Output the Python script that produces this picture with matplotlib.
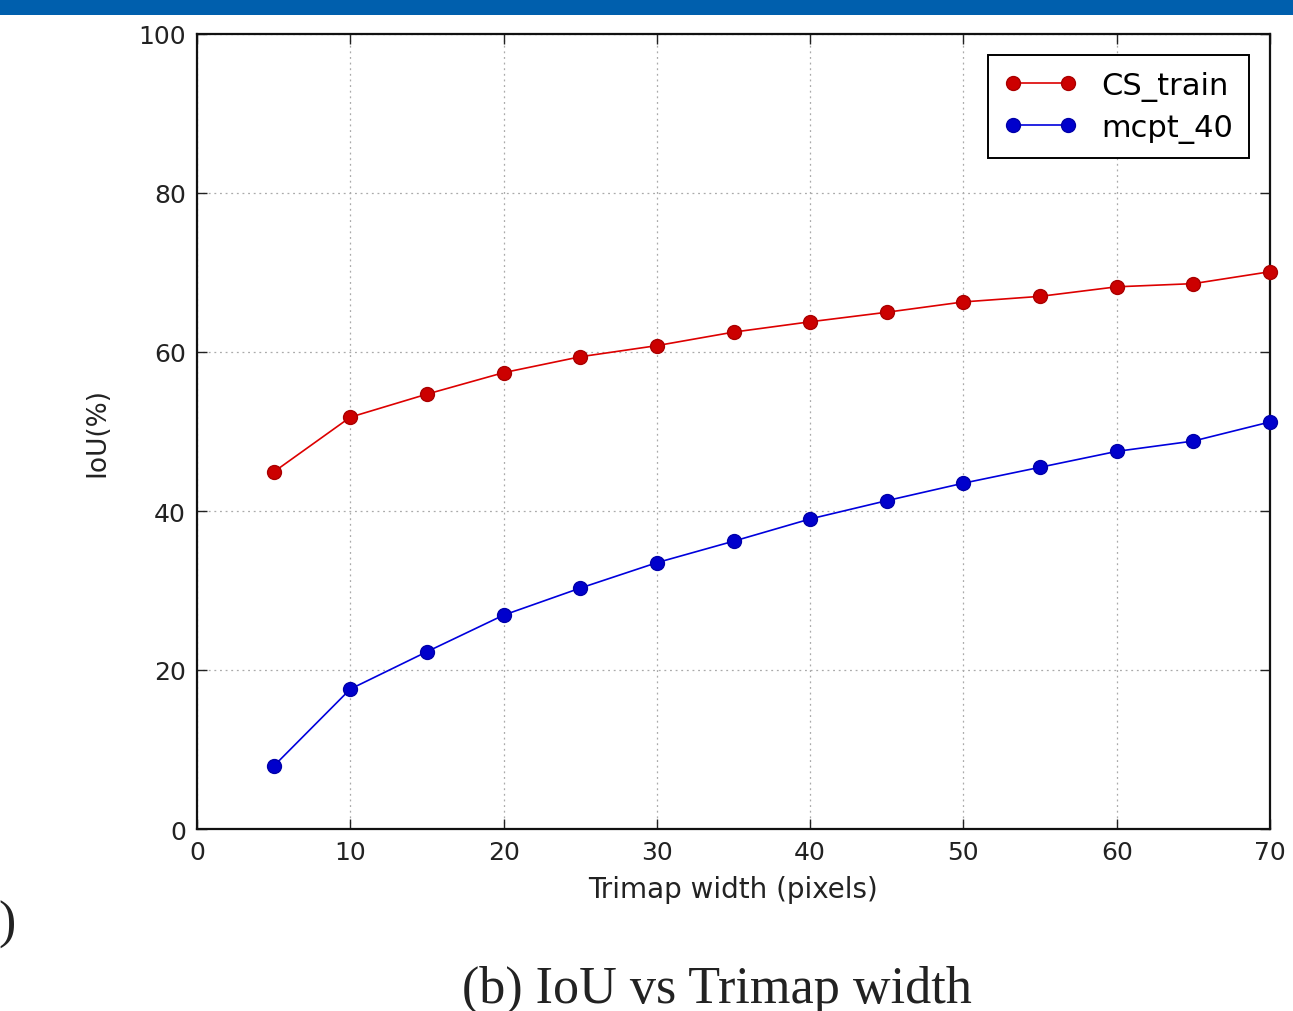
import matplotlib
matplotlib.use("Agg")
import matplotlib.pyplot as plt
from matplotlib.patches import Rectangle

# data
widths = [5, 10, 15, 20, 25, 30, 35, 40, 45, 50, 55, 60, 65, 70]
cs_train = [44.9, 51.8, 54.7, 57.4, 59.4, 60.8, 62.5, 63.8, 65.0, 66.3, 67.0, 68.2, 68.6, 70.1]
mcpt_40 = [7.9, 17.6, 22.3, 26.9, 30.3, 33.5, 36.2, 39.0, 41.3, 43.5, 45.5, 47.5, 48.8, 51.2]
xticks = [0, 10, 20, 30, 40, 50, 60, 70]
yticks = [0, 20, 40, 60, 80, 100]

plt.rcParams["font.family"] = ["DejaVu Sans"]

fig = plt.figure(figsize=(12.93, 10.12), dpi=100)
fig.patch.set_facecolor("white")

# blue banner across the top
fig.add_artist(Rectangle((0, 1 - 16 / 1012), 1, 16 / 1012, transform=fig.transFigure,
                         facecolor="#005fad", edgecolor="none"))

ax = fig.add_axes([197 / 1293, 1 - 830 / 1012, (1270 - 197) / 1293, (830 - 35) / 1012])

ax.plot(widths, cs_train, "-o", color="#dd0000", mfc="#cc0000", mec="#aa0000",
        lw=1.2, ms=10, label="CS_train", clip_on=False, zorder=3)
ax.plot(widths, mcpt_40, "-o", color="#0000dd", mfc="#0000cc", mec="#0000aa",
        lw=1.2, ms=10, label="mcpt_40", clip_on=False, zorder=3)

ax.set_xlim(0, 70)
ax.set_ylim(0, 100)
ax.set_xticks(xticks)
ax.set_yticks(yticks)
ax.tick_params(direction="in", top=True, right=True, length=7, width=1,
               labelsize=18, pad=8, colors="#222222")
ax.grid(True, linestyle=(0, (1.5, 3)), color="#aaaaaa", lw=0.9)
for s in ax.spines.values():
    s.set_linewidth(1.6)
    s.set_color("#111111")

ax.set_xlabel("Trimap width (pixels)", fontsize=20, color="#222222", labelpad=8)
ax.set_ylabel("IoU(%)", fontsize=19, color="#222222", labelpad=20)

leg = ax.legend(loc="upper right", fontsize=22, fancybox=False, framealpha=1,
                edgecolor="black", numpoints=2, handlelength=2.4, borderpad=0.5,
                borderaxespad=0.7, handletextpad=0.8, labelspacing=0.4)
leg.get_frame().set_linewidth(1.4)

# caption and stray panel mark
fig.text(717 / 1293, 1 - 990 / 1012, "(b) IoU vs Trimap width", ha="center",
         va="center", fontsize=37.5, family="Liberation Serif", color="#222222")
fig.text(-2 / 1293, 1 - 925 / 1012, ")", ha="left", va="center",
         fontsize=37.5, family="Liberation Serif", color="#222222")

fig.savefig("out.png", dpi=100, facecolor="white")
